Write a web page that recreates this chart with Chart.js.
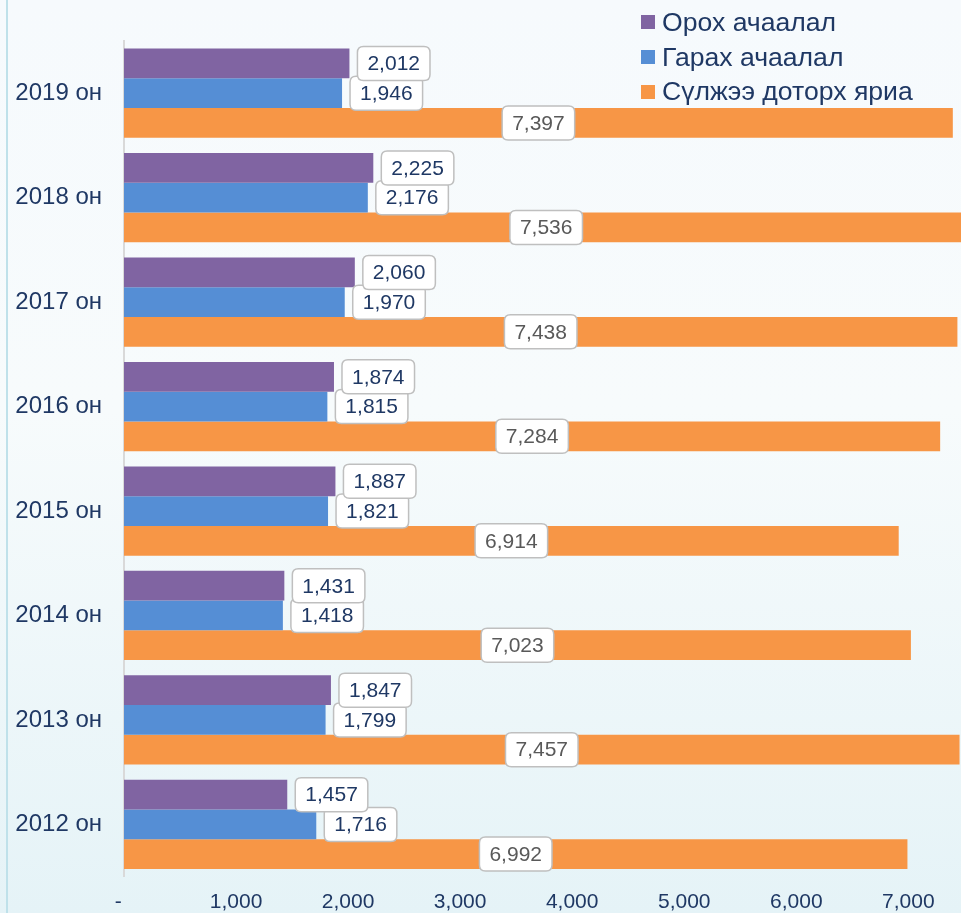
<!DOCTYPE html>
<html>
<head>
<meta charset="utf-8">
<script src="https://cdn.jsdelivr.net/npm/chart.js@4/dist/chart.umd.min.js"></script>
<style>
  html, body { margin: 0; padding: 0; }
  body {
    width: 961px; height: 913px; overflow: hidden; position: relative;
    background: linear-gradient(to bottom, #f6fafd 0%, #f7fbfc 45%, #e5f3f7 100%);
    font-family: "Liberation Sans", Arial, sans-serif;
  }
  #edge { position: absolute; left: 6px; top: 0; width: 2px; height: 913px; background: #bfe1ea; }
  #wrap { position: absolute; left: 0; top: 0; width: 961px; height: 913px; }
  #legend { position: absolute; left: 641px; top: 5px; color: #1f3864; font-size: 26.6px; }
  .item { height: 34.7px; display: flex; align-items: center; white-space: nowrap; }
  .sw { width: 14px; height: 14px; margin-right: 7px; display: inline-block; }
</style>
</head>
<body>
<div id="edge"></div>
<div id="wrap"><canvas id="chart" width="961" height="913"></canvas></div>
<div id="legend"></div>
<script>
const years = ['2019 он', '2018 он', '2017 он', '2016 он', '2015 он', '2014 он', '2013 он', '2012 он'];
const incoming = [2012, 2225, 2060, 1874, 1887, 1431, 1847, 1457];
const outgoing = [1946, 2176, 1970, 1815, 1821, 1418, 1799, 1716];
const onNet = [7397, 7536, 7438, 7284, 6914, 7023, 7457, 6992];
const xTicks = [0, 1000, 2000, 3000, 4000, 5000, 6000, 7000];
const seriesNames = ['Орох ачаалал', 'Гарах ачаалал', 'Сүлжээ доторх яриа'];
const seriesColors = ['#8064a2', '#558ed5', '#f79646'];

const textColor = '#1f3864';
const font = '"Liberation Sans", Arial, sans-serif';

// legend, stacked vertically at top right
const legend = document.getElementById('legend');
seriesNames.forEach((name, i) => {
    const row = document.createElement('div');
    row.className = 'item';
    row.innerHTML = '<span class="sw" style="background:' + seriesColors[i] + '"></span>' + name;
    legend.appendChild(row);
});

function roundRect(ctx, x, y, w, h, r) {
    ctx.beginPath();
    ctx.moveTo(x + r, y);
    ctx.lineTo(x + w - r, y);
    ctx.quadraticCurveTo(x + w, y, x + w, y + r);
    ctx.lineTo(x + w, y + h - r);
    ctx.quadraticCurveTo(x + w, y + h, x + w - r, y + h);
    ctx.lineTo(x + r, y + h);
    ctx.quadraticCurveTo(x, y + h, x, y + h - r);
    ctx.lineTo(x, y + r);
    ctx.quadraticCurveTo(x, y, x + r, y);
    ctx.closePath();
}

// value boxes: outside the end for the two short series, centered on the long one
const valueBoxes = {
    id: 'valueBoxes',
    afterDatasetsDraw(chart) {
        const ctx = chart.ctx;
        ctx.save();
        ctx.font = '21px ' + font;
        ctx.textBaseline = 'middle';
        ctx.textAlign = 'center';
        for (let i = chart.data.datasets.length - 1; i >= 0; i--) {
            const ds = chart.data.datasets[i];
            const meta = chart.getDatasetMeta(i);
            meta.data.forEach((bar, j) => {
                const text = ds.data[j].toLocaleString('en-US');
                const w = ctx.measureText(text).width + 20;
                const h = 34;
                const cx = i === 2 ? (bar.x + bar.base) / 2 : bar.x + 8 + w / 2;
                const cy = bar.y;
                roundRect(ctx, cx - w / 2, cy - h / 2, w, h, 6);
                ctx.fillStyle = '#ffffff';
                ctx.fill();
                ctx.lineWidth = 1.5;
                ctx.strokeStyle = '#bfbfbf';
                ctx.stroke();
                ctx.fillStyle = i === 2 ? '#595959' : textColor;
                ctx.fillText(text, cx, cy + 1);
            });
        }
        ctx.restore();
    }
};

const ctx = document.getElementById('chart').getContext('2d');
new Chart(ctx, {
    type: 'bar',
    data: {
        labels: years,
        datasets: [
            { label: seriesNames[0], data: incoming, backgroundColor: seriesColors[0] },
            { label: seriesNames[1], data: outgoing, backgroundColor: seriesColors[1] },
            { label: seriesNames[2], data: onNet, backgroundColor: seriesColors[2] }
        ]
    },
    options: {
        indexAxis: 'y',
        responsive: false,
        animation: false,
        events: [],
        layout: { padding: { top: 41, left: 0, right: 0, bottom: 0 } },
        datasets: { bar: { categoryPercentage: 0.854, barPercentage: 1.0 } },
        plugins: { legend: { display: false }, tooltip: { enabled: false } },
        scales: {
            x: {
                min: 0,
                max: 7470,
                grid: { display: false, drawTicks: false },
                border: { display: false },
                ticks: {
                    color: textColor,
                    font: { family: font, size: 21 },
                    padding: 13,
                    maxRotation: 0,
                    autoSkip: false,
                    callback: v => v === 0 ? '-  ' : v.toLocaleString('en-US')
                },
                afterBuildTicks: s => { s.ticks = xTicks.map(v => ({ value: v })); },
                afterFit: s => { s.height = 35; }
            },
            y: {
                grid: { display: false, drawTicks: false },
                border: { display: true, color: '#d9d9d9', width: 2 },
                ticks: {
                    color: textColor,
                    font: { family: font, size: 24 },
                    padding: 22
                },
                afterFit: s => { s.width = 124; }
            }
        }
    },
    plugins: [valueBoxes]
});
</script>
</body>
</html>
